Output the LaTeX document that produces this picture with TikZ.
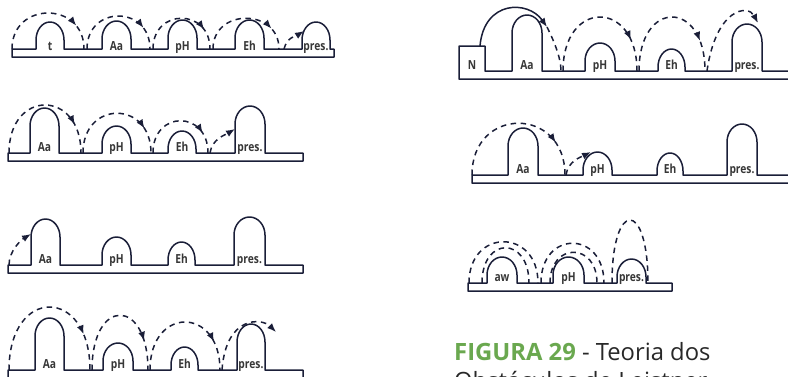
\documentclass[tikz,border=0pt]{standalone}
\usepackage{fontspec}
\setmainfont{Open Sans}
\newfontfamily\hurdlefont[FakeStretch=0.82]{Open Sans}
\usepackage{tikz}
\usetikzlibrary{arrows.meta, decorations.markings}

\definecolor{inkline}{RGB}{26,30,56}
\definecolor{labelgray}{RGB}{55,55,55}
\definecolor{capgreen}{RGB}{106,168,79}
\definecolor{captext}{RGB}{40,40,40}

\begin{document}
\begin{tikzpicture}[
    x=1pt, y=1pt,
    track/.style={draw=inkline, line width=1.5pt, line join=round},
    hop/.style={draw=inkline, line width=1.5pt, dash pattern=on 5.5pt off 4.5pt},
    hopmid/.style={hop, postaction={decorate, decoration={markings, mark=at position 0.78 with {\arrow{Latex[length=9pt,width=7pt]}}}}},
    hopend/.style={hop, -{Latex[length=9pt,width=7pt]}},
    leap/.style={draw=inkline, line width=1.5pt, -{Latex[length=9pt,width=7pt]}},
    lbl/.style={font=\hurdlefont\bfseries\fontsize{12.5}{12.5}\selectfont, text=labelgray, anchor=base, inner sep=0pt},
    caption/.style={font=\fontsize{23.8}{29}\selectfont, text=captext, anchor=base west, inner sep=0pt}
]
\useasboundingbox (0,0) rectangle (788,-376);

% Panel 1: t, Aa, pH, Eh, pres.
\draw[track] (12,-49)
    \foreach \lx/\rx/\tp in {36/64/22, 102/131/21, 168/197/20, 235/264/20, 302/330/22}
        { -- (\lx,-49) -- (\lx,-\tp-18) arc[start angle=180, end angle=0, x radius={(\rx-\lx)/2}, y radius=18] -- (\rx,-49) }
    -- (334,-49) -- (334,-57) -- (12,-57) -- cycle;
\foreach \cx/\txt [count=\i] in {50/t, 116.5/Aa, 182.5/pH, 249.5/Eh, 316/pres.}
    \node[lbl] (p1-\i) at (\cx,-50.5) {\txt};
\foreach \sx/\ex/\c [count=\i] in {12/84/48, 87/150/44, 153/210/41, 213/279/41} {
    \coordinate (p1s\i) at (\sx,-49);
    \coordinate (p1e\i) at (\ex,-49);
    \draw[hopmid] (p1s\i) .. controls +(0,\c) and +(0,\c) .. (p1e\i);
}
\coordinate (p1s5) at (284,-49);
\coordinate (p1e5) at (304,-31);
\draw[hopend] (p1s5) .. controls +(3,12) and +(-8,-5) .. (p1e5);

% Panel 2: Aa, pH, Eh, pres.
\draw[track] (8,-153)
    \foreach \lx/\rx/\tp in {30/59/108, 102/131/126, 168/196/131, 235/265/106}
        { -- (\lx,-153) -- (\lx,-\tp-18) arc[start angle=180, end angle=0, x radius={(\rx-\lx)/2}, y radius=18] -- (\rx,-153) }
    -- (303,-153) -- (303,-161) -- (8,-161) -- cycle;
\foreach \cx/\txt [count=\i] in {44.5/Aa, 116.5/pH, 182/Eh, 250/pres.}
    \node[lbl] (p2-\i) at (\cx,-151.5) {\txt};
\foreach \sx/\ex/\c [count=\i] in {9/81/64, 83/151/53, 153/208/43} {
    \coordinate (p2s\i) at (\sx,-153);
    \coordinate (p2e\i) at (\ex,-153);
    \draw[hopmid] (p2s\i) .. controls +(0,\c) and +(0,\c) .. (p2e\i);
}
\coordinate (p2s4) at (210,-153);
\coordinate (p2e4) at (235,-129);
\draw[hopend] (p2s4) .. controls +(2,14) and +(-10,-6) .. (p2e4);

% Panel 3: stopped at the first hurdle
\draw[track] (8,-265)
    \foreach \lx/\rx/\tp in {31/60/219, 102/131/237, 168/195/242, 234/265/217}
        { -- (\lx,-265) -- (\lx,-\tp-18) arc[start angle=180, end angle=0, x radius={(\rx-\lx)/2}, y radius=18] -- (\rx,-265) }
    -- (303,-265) -- (303,-273) -- (8,-273) -- cycle;
\foreach \cx/\txt [count=\i] in {45.5/Aa, 116.5/pH, 181.5/Eh, 249.5/pres.}
    \node[lbl] (p3-\i) at (\cx,-263.5) {\txt};
\coordinate (p3s1) at (9,-265);
\coordinate (p3e1) at (31,-234);
\draw[hopend] (p3s1) .. controls +(0,14) and +(-10,-6) .. (p3e1);

% Panel 4: all hurdles passed
\draw[track] (8,-370)
    \foreach \lx/\rx/\tp in {35/64/318, 103/133/343, 171/198/347, 237/265/324}
        { -- (\lx,-370) -- (\lx,-\tp-18) arc[start angle=180, end angle=0, x radius={(\rx-\lx)/2}, y radius=18] -- (\rx,-370) }
    -- (303,-370) -- (303,-378) -- (8,-378) -- cycle;
\foreach \cx/\txt [count=\i] in {49.5/Aa, 118/pH, 184.5/Eh, 251/pres.}
    \node[lbl] (p4-\i) at (\cx,-368.5) {\txt};
\foreach \sx/\ex/\c [count=\i] in {9/90/84, 92/148/73, 150/220/64} {
    \coordinate (p4s\i) at (\sx,-370);
    \coordinate (p4e\i) at (\ex,-370);
    \draw[hopmid] (p4s\i) .. controls +(0,\c) and +(0,\c) .. (p4e\i);
}
\coordinate (p4s4) at (222,-370);
\coordinate (p4e4) at (276,-332);
\draw[hopend] (p4s4) .. controls +(4,55) and +(-14,14) .. (p4e4);

% Panel 5: N block and hurdles
\draw[track] (790,-79) -- (459,-79) -- (459,-46) -- (485,-46) -- (485,-71)
    \foreach \lx/\rx/\tp in {512/542/15, 585/615/43, 658/685/49, 732/762/24}
        { -- (\lx,-71) -- (\lx,-\tp-18) arc[start angle=180, end angle=0, x radius={(\rx-\lx)/2}, y radius=18] -- (\rx,-71) }
    -- (790,-71);
\node[lbl] (p5-0) at (472,-69.5) {N};
\foreach \cx/\txt [count=\i] in {527/Aa, 600/pH, 671.5/Eh, 747/pres.}
    \node[lbl] (p5-\i) at (\cx,-69.5) {\txt};
\coordinate (ntop) at (480,-46);
\coordinate (nland) at (547,-27);
\coordinate (nfall) at (561,-71);
\draw[leap] (ntop) .. controls +(4,46) and +(-19,27) .. (nland);
\draw[hop] (nland) .. controls +(6,-12) and +(0,14) .. (nfall);
\foreach \sx/\ex/\c [count=\i] in {563/637/72, 639/705/72} {
    \coordinate (p5s\i) at (\sx,-71);
    \coordinate (p5e\i) at (\ex,-71);
    \draw[hopmid] (p5s\i) .. controls +(0,\c) and +(0,\c) .. (p5e\i);
}
\coordinate (p5s3) at (707,-71);
\coordinate (p5e3) at (758,-23);
\draw[hopend] (p5s3) .. controls +(9,63) and +(-10,19) .. (p5e3);

% Panel 6: stopped at pH
\draw[track] (790,-183) -- (472,-183) -- (472,-175)
    \foreach \lx/\rx/\tp in {508/538/128, 583/612/152, 657/683/153, 727/757/124}
        { -- (\lx,-175) -- (\lx,-\tp-18) arc[start angle=180, end angle=0, x radius={(\rx-\lx)/2}, y radius=18] -- (\rx,-175) }
    -- (790,-175);
\foreach \cx/\txt [count=\i] in {523/Aa, 597.5/pH, 670/Eh, 742/pres.}
    \node[lbl] (p6-\i) at (\cx,-173.5) {\txt};
\coordinate (p6s1) at (472,-175);
\coordinate (p6e1) at (565,-175);
\draw[hopmid] (p6s1) .. controls +(0,69) and +(0,69) .. (p6e1);
\coordinate (p6s2) at (566,-175);
\coordinate (p6e2) at (591,-152);
\draw[hopend] (p6s2) .. controls +(2,14) and +(-10,-5) .. (p6e2);

% Panel 7: aw, pH, pres.
\draw[track] (468,-283)
    \foreach \lx/\rx/\tp in {487/517/257, 553/584/257, 617/646/259}
        { -- (\lx,-283) -- (\lx,-\tp-18) arc[start angle=180, end angle=0, x radius={(\rx-\lx)/2}, y radius=18] -- (\rx,-283) }
    -- (672,-283) -- (672,-291) -- (468,-291) -- cycle;
\foreach \cx/\txt [count=\i] in {502/aw, 568.5/pH, 631.5/pres.}
    \node[lbl] (p7-\i) at (\cx,-281.5) {\txt};
\foreach \sx/\ex/\c [count=\i] in {469/538/55, 482/529/47, 541/604/53, 550/597/41, 612/648/84} {
    \coordinate (p7s\i) at (\sx,-283);
    \coordinate (p7e\i) at (\ex,-283);
    \draw[hop] (p7s\i) .. controls +(0,\c) and +(0,\c) .. (p7e\i);
}

% Caption
\node[caption] (cap1) at (454,-360) {\textcolor{capgreen}{\bfseries FIGURA 29} - Teoria dos};
\node[caption] (cap2) at (454,-389) {Obstáculos de Leistner};
\end{tikzpicture}
\end{document}
